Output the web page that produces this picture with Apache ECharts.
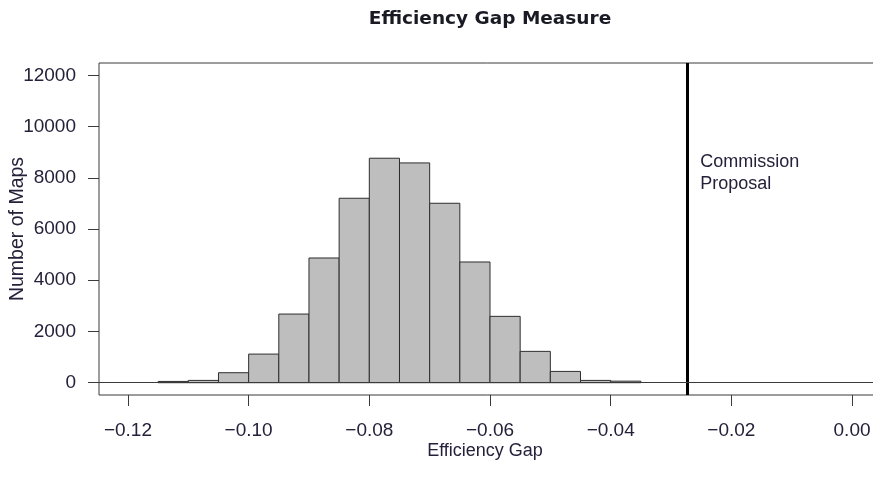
<!DOCTYPE html>
<html>
<head>
<meta charset="utf-8">
<script src="https://cdn.jsdelivr.net/npm/echarts@6/dist/echarts.min.js"></script>
<style>
html,body{margin:0;padding:0;background:#fff;}
#chart{width:873px;height:495px;}
</style>
</head>
<body>
<div id="chart"></div>
<script>
// Histogram bins (left edges) and counts
var binWidth = 0.005;
var binStarts = [-0.115, -0.11, -0.105, -0.10, -0.095, -0.09, -0.085, -0.08, -0.075, -0.07, -0.065, -0.06, -0.055, -0.05, -0.045, -0.04];
var counts = [50, 90, 390, 1117, 2680, 4868, 7200, 8763, 8580, 7005, 4712, 2590, 1223, 441, 90, 60];
var xTicks = [-0.12, -0.10, -0.08, -0.06, -0.04, -0.02, 0.00];
var yTicks = [0, 2000, 4000, 6000, 8000, 10000, 12000];
var proposalValue = -0.0273;
var proposalLabel = 'Commission\nProposal';
var titleText = 'Efficiency Gap Measure';
var xName = 'Efficiency Gap';
var yName = 'Number of Maps';

var histData = binStarts.map(function (s, i) { return [s, s + binWidth, counts[i]]; });

var textColor = '#26213a';
var lineColor = '#3a3a3a';
var font = 'Liberation Sans, Arial, Helvetica, sans-serif';

var chart = echarts.init(document.getElementById('chart'), null, {renderer: 'canvas'});
chart.setOption({
  animation: false,
  backgroundColor: '#fff',
  graphic: [{
    type: 'text',
    x: 490, y: 10,
    style: {
      text: titleText, align: 'center', verticalAlign: 'top',
      fontFamily: 'DejaVu Sans, sans-serif', fontWeight: 'bold', fontSize: 18.5, fill: '#1a1a24'
    }
  }],
  grid: {
    left: 99, top: 63, width: 782, height: 332,
    show: true, borderColor: lineColor, borderWidth: 1, backgroundColor: 'transparent',
    containLabel: false, outerBoundsMode: 'none'
  },
  xAxis: {
    type: 'value',
    min: -0.1248, max: 0.0048,
    name: xName,
    nameLocation: 'middle',
    nameGap: 47,
    nameMoveOverlap: false,
    nameTextStyle: {fontFamily: font, fontSize: 18, color: textColor, padding: [0, 10, 0, 0]},
    axisLine: {show: false, onZero: false},
    splitLine: {show: false},
    axisTick: {show: true, length: 11, lineStyle: {color: lineColor}, customValues: xTicks},
    axisLabel: {
      customValues: xTicks,
      margin: 26,
      fontFamily: font, fontSize: 19, color: textColor,
      formatter: function (v) { return v.toFixed(2).replace('-', '\u2212'); }
    }
  },
  yAxis: {
    type: 'value',
    min: -480, max: 12480,
    name: yName,
    nameLocation: 'middle',
    nameGap: 71,
    nameMoveOverlap: false,
    nameTextStyle: {fontFamily: font, fontSize: 19.5, color: textColor},
    axisLine: {show: false, onZero: false},
    splitLine: {show: false},
    axisTick: {show: true, length: 11, lineStyle: {color: lineColor}, customValues: yTicks},
    axisLabel: {
      customValues: yTicks,
      margin: 23,
      fontFamily: font, fontSize: 19, color: textColor,
      formatter: function (v) { return String(v); }
    }
  },
  series: [
    {
      type: 'custom',
      data: histData,
      encode: {x: [0, 1], y: 2},
      renderItem: function (params, api) {
        var p0 = api.coord([api.value(0), api.value(2)]);
        var p1 = api.coord([api.value(1), 0]);
        return {
          type: 'rect',
          shape: {x: p0[0], y: p0[1], width: p1[0] - p0[0], height: p1[1] - p0[1]},
          style: {fill: '#bebebe', stroke: '#2e2e2e', lineWidth: 1}
        };
      },
      z: 2
    },
    {
      type: 'scatter',
      data: [[proposalValue, 8180]],
      symbolSize: 0,
      silent: true,
      itemStyle: {opacity: 1},
      label: {
        show: true, position: 'right', distance: 13,
        formatter: proposalLabel,
        fontFamily: font, fontSize: 18, lineHeight: 22, color: textColor
      },
      markLine: {
        silent: true,
        symbol: 'none',
        precision: 5,
        label: {show: false},
        data: [
          {xAxis: proposalValue, lineStyle: {color: '#000', width: 3, type: 'solid'}},
          {yAxis: 0, lineStyle: {color: lineColor, width: 1, type: 'solid'}}
        ]
      },
      z: 3
    }
  ]
});
</script>
</body>
</html>
